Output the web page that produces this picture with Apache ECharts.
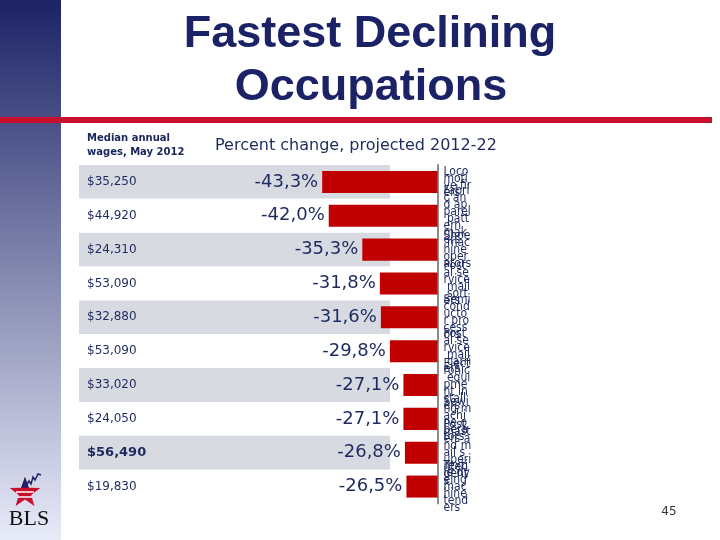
<!DOCTYPE html>
<html>
<head>
<meta charset="utf-8">
<script src="https://cdn.jsdelivr.net/npm/echarts@6/dist/echarts.min.js"></script>
<style>html,body{margin:0;padding:0;background:#fff}#c{width:720px;height:540px}</style>
</head>
<body>
<div id="c"></div>
<script>
// ---- data ----
const occupations = [
  'Locomotive firers',
  'Fabric and apparel patternmakers',
  'Shoe machine operators',
  'Postal service mail sorters',
  'Semiconductor processors',
  'Postal service mail carriers',
  'Electronic equipment installers',
  'Sewing machine operators',
  'Postmasters and mail superintendents',
  'Textile dyeing machine tenders'
];
const wages = ['$35,250', '$44,920', '$24,310', '$53,090', '$32,880', '$53,090', '$33,020', '$24,050', '$56,490', '$19,830'];
const pctChange = [-43.3, -42.0, -35.3, -31.8, -31.6, -29.8, -27.1, -27.1, -26.8, -26.5];
const titleLines = ['Fastest Declining', 'Occupations'];
const wageHeader = ['Median annual', 'wages, May 2012'];
const pctHeader = 'Percent change, projected 2012-22';
const pageNumber = '45';

// ---- chart ----
const navy = '#1b2366';
const textNavy = '#1e2a5e';
const chart = echarts.init(document.getElementById('c'), null, {renderer: 'canvas'});

function starPoints(cx, cy, R, r) {
  const pts = [];
  for (let k = 0; k < 10; k++) {
    const a = (-90 + k * 36) * Math.PI / 180;
    const rad = k % 2 === 0 ? R : r;
    pts.push([cx + rad * Math.cos(a), cy + rad * Math.sin(a)]);
  }
  return pts;
}
const sp = starPoints(25, 493, 16, 6.5);

const fmtPct = v => (v.toFixed(1)).replace('.', ',') + '%';

chart.setOption({
  animation: false,
  grid: [
    {left: 79, width: 311, top: 165, height: 338.5, containLabel: false},
    {left: 237, width: 200.5, top: 165, height: 338.5, containLabel: false}
  ],
  xAxis: [
    {gridIndex: 0, type: 'value', min: 0, max: 1, show: false},
    {gridIndex: 1, type: 'value', min: -60.3, max: -20.3, show: false}
  ],
  yAxis: [
    {
      gridIndex: 0, type: 'category', inverse: true,
      data: wages.map((w, i) => i === 8 ? {value: w, textStyle: {fontWeight: 'bold', fontSize: 13}} : w),
      axisLine: {show: false}, axisTick: {show: false},
      splitLine: {show: false},
      splitArea: {show: true, areaStyle: {color: ['#d8dae2', '#ffffff']}},
      axisLabel: {inside: true, margin: 8, interval: 0, color: textNavy, fontSize: 12, fontFamily: 'DejaVu Sans'}
    },
    {
      gridIndex: 1, type: 'category', inverse: true, position: 'right',
      data: occupations,
      axisLine: {show: true, lineStyle: {color: '#8c8c8c', width: 2}},
      axisTick: {show: false},
      axisLabel: {
        interval: 0, margin: 6, width: 28, overflow: 'breakAll', lineHeight: 7,
        fontSize: 12, color: textNavy, fontFamily: 'DejaVu Sans Condensed, DejaVu Sans', align: 'left'
      }
    }
  ],
  series: [
    {
      type: 'bar', xAxisIndex: 1, yAxisIndex: 1, data: pctChange,
      barCategoryGap: '35%', clip: true,
      itemStyle: {color: '#c00000'},
      label: {
        show: true, position: 'left', distance: 4,
        formatter: p => fmtPct(p.value),
        fontSize: 18, color: textNavy, fontFamily: 'DejaVu Sans'
      }
    }
  ],
  graphic: [
    {type: 'rect', shape: {x: 0, y: 0, width: 61, height: 540}, z: -10,
      style: {fill: new echarts.graphic.LinearGradient(0, 0, 0, 1, [
        {offset: 0, color: '#1c2366'}, {offset: 1, color: '#e8ebf8'}])}},
    {type: 'rect', shape: {x: 0, y: 117, width: 712, height: 6}, style: {fill: '#c8102e'}},
    {type: 'text', x: 370, y: 35, style: {text: titleLines[0], align: 'center', verticalAlign: 'middle',
      font: 'bold 45px "Liberation Sans", Arial, sans-serif', fill: navy}},
    {type: 'text', x: 371, y: 88, style: {text: titleLines[1], align: 'center', verticalAlign: 'middle',
      font: 'bold 45px "Liberation Sans", Arial, sans-serif', fill: navy}},
    {type: 'text', x: 87, y: 138, style: {text: wageHeader[0], verticalAlign: 'middle',
      font: 'bold 10px "DejaVu Sans", sans-serif', fill: '#1a2559'}},
    {type: 'text', x: 87, y: 152, style: {text: wageHeader[1], verticalAlign: 'middle',
      font: 'bold 10px "DejaVu Sans", sans-serif', fill: '#1a2559'}},
    {type: 'text', x: 215, y: 146, style: {text: pctHeader, verticalAlign: 'middle',
      font: '16px "DejaVu Sans", sans-serif', fill: textNavy}},
    {type: 'text', x: 669, y: 512, style: {text: pageNumber, align: 'center', verticalAlign: 'middle',
      font: '12px "DejaVu Sans", sans-serif', fill: '#333333'}},
    // BLS logo
    {type: 'polygon', shape: {points: sp}, style: {fill: '#c8102e'}},
    {type: 'polygon', shape: {points: [sp[0], sp[1], sp[9]]}, style: {fill: navy}},
    {type: 'line', shape: {x1: 16, y1: 492, x2: 34, y2: 492}, style: {stroke: '#ffffff', lineWidth: 1.5}},
    {type: 'line', shape: {x1: 18, y1: 497, x2: 32, y2: 497}, style: {stroke: '#ffffff', lineWidth: 1.5}},
    {type: 'polyline', shape: {points: [[26, 486], [29, 481], [31, 484], [33, 477], [35, 480], [38, 474], [41, 475]]},
      style: {stroke: navy, lineWidth: 1.5, fill: null}},
    {type: 'text', x: 29, y: 519, style: {text: 'BLS', align: 'center', verticalAlign: 'middle',
      font: '22px "Liberation Serif", serif', fill: '#111111'}}
  ]
});
</script>
</body>
</html>
